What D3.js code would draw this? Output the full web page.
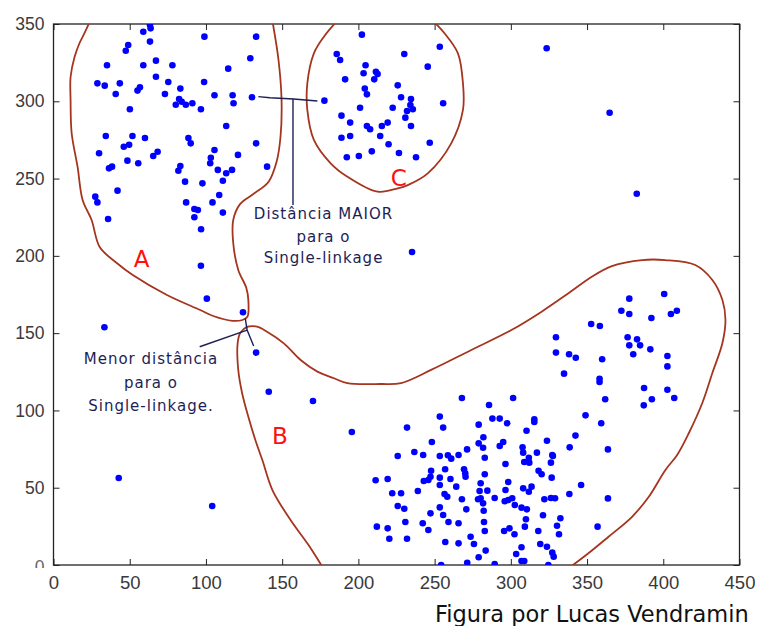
<!DOCTYPE html>
<html>
<head>
<meta charset="utf-8">
<script src="https://cdn.jsdelivr.net/npm/d3@7"></script>
<style>
  html, body { margin: 0; padding: 0; background: #fff; }
  svg { display: block; }
</style>
</head>
<body>
<svg id="chart" width="757" height="626"></svg>
<script>
// ---------------- data ----------------
const xTicks = [0, 50, 100, 150, 200, 250, 300, 350, 400, 450];
const yTicks = [0, 50, 100, 150, 200, 250, 300, 350];

const groupA = [
  [63.3,349.4],[63.7,347.2],[58.9,345],[99,341.8],[132.9,341.8],[63.3,338.6],[49,336.4],[47.4,332.7],
  [129.1,327.8],[67.2,326.3],[35.1,323.3],[58.9,323.3],[78,323.3],[114.6,321.1],[67.2,315.9],[28.8,311.6],
  [33.6,310.1],[43.5,311.6],[75.3,312.5],[98.8,312.5],[56.7,309],[55.1,306.9],[83.2,308.2],[40.8,304.7],
  [73.1,304.7],[105.6,303.9],[117.5,303.9],[130.2,302.6],[82.4,301.5],[84.1,299.7],[80.2,297.8],[86.8,297.8],
  [91.1,298.7],[118.1,298.7],[50.1,294.8],[96.7,294.8],[113.3,284],[34.3,277.5],[51.8,277.5],[60,276.2],
  [88.5,276.2],[90,272.8],[132.9,272.8],[49.6,271.9],[46.1,270.6],[105.6,268.5],[29.9,266.4],[68.3,267.4],
  [65.4,264.6],[121,265.3],[103.2,263.5],[48.5,261.6],[55.6,259.9],[102.8,259.9],[38.4,257.7],[36.4,256.6],
  [83.2,258.1],[81.9,255.1],[140.1,257.7],[107.8,255.6],[117.1,255.6],[113.3,253.4],[111.1,248.6],[86.3,248],
  [97.7,246.9],[42,242.2],[27.4,238.3],[28.8,234.6],[108.7,239.4],[87,234.6],[104.3,234.6],[92.4,230.3],
  [94.7,229.7],[111.1,228],[92.4,225],[35.8,223.8],[96.8,217.2],[96.7,193.6],[100.6,172.3],[124.3,163.5]
];

const groupC = [
  [202.3,343.1],[253.4,335.3],[185.8,330.6],[188,326.7],[230.1,330.6],[204.7,323.3],[245.5,322.4],[203.4,318.1],
  [211.5,319.1],[212.6,317.6],[191.3,314.2],[210.4,314.2],[225.8,310.3],[204.2,308.2],[205.6,304.5],[228,302.6],
  [234.5,301.5],[177.7,300.4],[255.6,298.7],[201.1,295.8],[222.5,295.8],[234.1,297.6],[235.7,294.8],[231.9,293.7],
  [188.9,290.7],[230.8,289.4],[194.6,286.2],[219.2,286.2],[215.4,284],[205.6,284],[207.7,281.9],[234.5,284],
  [188.9,276.4],[194.6,277.5],[214.3,277.5],[246.8,273.2],[219.8,272.2],[208.8,267.6],[226.6,266.5],[192.4,263.8],
  [200.3,264.6],[237.8,263.8]
];

const groupB = [
  // upper right part
  [377.7,172.3],[400.6,175.3],[372.5,164.5],[377.7,162.4],[392.2,159.8],[405,162.4],[408.9,164.5],[352.7,155.9],
  [358.4,154.6],[329.6,147.3],[376.6,147.3],[382.8,146],[377.7,142.1],[384.8,142.1],[391.5,139.5],[329.6,137.4],
  [338.2,136.3],[342.6,134.1],[359.9,133.1],[380.3,136.3],[402.7,135.2],[402.7,128.5],[334.9,123.8],[358.2,120.5],
  [358.2,118.4],[387.4,114.5],[402.7,113.4],[407.2,108],[392.5,107.2],[361.9,107.2],[387.2,103.3],[349,96.8],
  [359.3,91.7],[342.4,83.7],[323.7,80.4],[338.6,76.1],[363.7,74.8],[327.6,70.5],[363.7,43.1],
  // left / sparse part
  [132.9,137.4],[141.2,112.1],[170.2,106.1],[195.7,86],
  // dense part
  [267.9,108],[301.5,108],[285.7,103.5],[253.4,96],[287.9,94.7],[292.7,94.7],[315.4,94.3],[315.4,92.5],
  [278.9,90.8],[297.6,91.7],[231.9,88.9],[255.6,88.9],[310.3,86.9],[282,82.6],[248.2,79.6],[278.9,78.7],
  [295,79.6],[292.7,77],[281.8,75.9],[271.3,74.8],[307.7,76.1],[236.7,73.1],[225.8,70.5],[242.5,71.2],
  [253.4,70.5],[258.7,71],[260.9,68.8],[265.7,71.2],[308.1,72.7],[317.1,72.7],[327.2,71.2],[282.9,69.4],
  [311.8,69.4],[308.8,66.6],[326.3,66.2],[312.1,66.2],[296.5,65.3],[256.9,61.9],[269.3,61.9],[247.7,61],
  [318.2,61],[320.2,58.7],[270.1,59.3],[282.9,58.7],[270.3,57.1],[219.2,55.6],[211.3,54.8],[247.3,57.1],
  [253.4,56.5],[260.4,55.6],[242.9,54.3],[245.9,55],[326.8,56.5],[280.2,52.9],[298.3,53.7],[253.4,51.8],
  [264.2,50.7],[313.6,50.7],[308.1,49.6],[346.1,51.8],[239,47.9],[222.2,46.4],[228,46.4],[279.5,47.9],
  [284.6,48.1],[296.5,48.5],[311.8,47.4],[256.5,45.9],[258.3,44.2],[338.4,45.9],[280.2,43.2],[267.9,42.5],
  [278.5,42.5],[289.4,43.3],[296,41.2],[298.3,42.1],[300.9,43.2],[322,42.5],[326.3,43.3],[329,43.2],
  [281.8,39.9],[302.6,38.8],[225.8,38.2],[230.1,36.4],[253.4,37.3],[270.8,36],[307,37.1],[310.5,36],
  [282.2,35.1],[247.3,33.4],[255.6,32.3],[321.1,32.2],[332.5,30.2],[230.8,27.8],[242.2,27],[259.1,27.8],
  [265.7,27],[282.4,27.8],[309.9,29.6],[212.1,24.8],[219.2,23.7],[309.2,24.8],[330.3,25.4],[245.9,22.6],
  [299.1,23.7],[282.9,22],[295.6,22],[318,22],[302.4,19.9],[331.6,19.9],[220.3,17],[231.9,17],
  [273.6,18.3],[356.9,24.8],[257,14.9],[265.7,14],[275.8,13.6],[319.3,13.6],[323.7,11.8],[307,11.5],
  [283.5,9.3],[303.5,7.1],[327.2,8],[278.9,5],[328.1,5.4],[307,2.6],[308.8,2.6],[271.4,1.5],
  [289.4,0.6],[254.3,0],[324.6,0]
];

const outliers = [
  [33.4,153.8],[42.8,56.3],[104.1,38.2],[235.2,202.5],[323.5,334.3],[364.8,292.6],[382.6,240.2]
];

// cluster outlines (data coordinates)
const curveA = [
  [24,352],[20.4,344.2],[17.1,337.7],[13.8,328.6],[11.2,315.7],[11.2,300.8],[11.9,279.5],[15.8,257.5],
  [19.1,236.1],[25,223.2],[30.3,205.7],[41.5,195.4],[52,187.6],[74.4,174.7],[96.2,165],[104.8,161.1],
  [117.3,158],[123.9,158.5],[127.2,160.6],[127.8,171.4],[126.5,179.2],[121.2,190.9],[117.9,208.3],
  [117.9,223.2],[122.5,233.6],[131.1,240],[141,247.8],[146.3,260.7],[148.9,276.9],[149.6,300.8],
  [147.6,326.7],[143.6,352]
];
const curveB = [
  [177.5,-3],[167.3,12.9],[155.5,29.1],[143.6,48.5],[137,67.9],[132.4,80.9],[127.8,95.9],[123.7,111.3],
  [121.2,126.2],[120.8,143.6],[122.5,150.1],[127,154],[133.5,154.2],[140.1,150.9],[151.1,143.4],[162.1,132.6],
  [173.1,125.1],[184,120.8],[192.8,117.6],[214.8,117.1],[228,117.7],[247.7,126.2],[274.1,139.1],[300.4,152],
  [320.2,163.9],[337.8,175.8],[353.1,186.5],[366.3,193.4],[386.1,197.3],[401.2,197.3],[421,194.1],[432.2,184.4],
  [438.8,171.4],[440.8,158.5],[438.8,143.6],[432.2,124.2],[425.6,104.8],[416.8,85.4],[409.1,71.2],[401.4,61.5],
  [390.5,44.2],[379.5,31.2],[364.1,18.3],[350.9,7.6],[336.5,-3]
];
const curveC = [
  [186,352],[177.4,341.8],[170.8,331],[166.5,311.6],[166.5,294.4],[170.8,275],[181.8,259.9],[192.8,251.2],
  [212.6,241.5],[225.8,243.7],[232.4,245.8],[245.5,253.4],[260.9,272.8],[268.6,294.4],[268.6,311.6],
  [265.3,331],[256.5,344],[249,352]
];

// annotation lines (data coordinates)
const maxLinkH = [[134.4,303],[142,302.3],[157.5,301.5],[173.1,300.2]];
const maxLinkV = [[157.1,301.5],[157.1,232.9]];
const minLinks = [
  [[95.9,141.2],[127,152]],
  [[125.8,159.6],[127,152]],
  [[127,152],[131.3,141.7]]
];

const clusterLabels = [
  { text: "A", x: 57.8, y: 193 },
  { text: "B", x: 148.5, y: 78.5 },
  { text: "C", x: 226.5, y: 245 }
];
const maxText = ["Distância MAIOR", "para o", "Single-linkage"];
const minText = ["Menor distância", "para o", "Single-linkage."];
const credit = "Figura por Lucas Vendramin";

// ---------------- drawing ----------------
const svg = d3.select("#chart");
const L = 53.5, R = 739.5, T = 24, B = 565;
const x = d3.scaleLinear().domain([0, 450]).range([L, R]);
const y = d3.scaleLinear().domain([0, 350]).range([B, T]);

const defs = svg.append("defs");
defs.append("clipPath").attr("id", "plotclip")
  .append("rect").attr("x", L).attr("y", T).attr("width", R - L).attr("height", B - T);
// the "0" of the y axis is partly hidden in the original figure
defs.append("clipPath").attr("id", "zeroclip")
  .append("rect").attr("x", -100).attr("y", -100).attr("width", 200).attr("height", 102.5);

const tickFont = "'Liberation Sans', Arial, sans-serif";

// axes (ticks inward, box-style)
const gx = svg.append("g").attr("transform", `translate(0,${B})`)
  .call(d3.axisBottom(x).tickValues(xTicks).tickSize(-6).tickSizeOuter(0).tickPadding(11));
const gy = svg.append("g").attr("transform", `translate(${L},0)`)
  .call(d3.axisLeft(y).tickValues(yTicks).tickSize(-6).tickSizeOuter(0).tickPadding(9));
const gt = svg.append("g").attr("transform", `translate(0,${T})`)
  .call(d3.axisTop(x).tickValues(xTicks).tickSize(-6).tickSizeOuter(0).tickFormat(""));
const gr = svg.append("g").attr("transform", `translate(${R},0)`)
  .call(d3.axisRight(y).tickValues(yTicks).tickSize(-6).tickSizeOuter(0).tickFormat(""));

[gx, gy, gt, gr].forEach(g => {
  g.select(".domain").remove();
  g.selectAll(".tick line").attr("stroke", "#222").attr("stroke-width", 1);
  g.selectAll(".tick text").attr("font-family", tickFont).attr("font-size", 17.5).attr("fill", "#3a3a3a");
});
gx.selectAll(".tick text").attr("font-size", 18.5);
gy.selectAll(".tick").filter(d => d === 0)
  .select("text").attr("dy", "0.45em").attr("fill", "#666").attr("clip-path", "url(#zeroclip)");

// plot frame
svg.append("rect").attr("x", L).attr("y", T).attr("width", R - L).attr("height", B - T)
  .attr("fill", "none").attr("stroke", "#222").attr("stroke-width", 1.3);

const plot = svg.append("g").attr("clip-path", "url(#plotclip)");

// outlines
const line = d3.line().x(d => x(d[0])).y(d => y(d[1])).curve(d3.curveCatmullRom.alpha(0.5));
[curveA, curveB, curveC].forEach(c => {
  plot.append("path").attr("d", line(c)).attr("fill", "none")
    .attr("stroke", "#a5351f").attr("stroke-width", 1.8);
});

// annotation lines
const sline = d3.line().x(d => x(d[0])).y(d => y(d[1]));
const annColor = "#1e1e55";
[maxLinkH, maxLinkV, ...minLinks].forEach(seg => {
  plot.append("path").attr("d", sline(seg)).attr("fill", "none")
    .attr("stroke", annColor).attr("stroke-width", 1.4);
});

// points
const allPts = groupA.concat(groupB, groupC, outliers);
plot.selectAll("circle.pt").data(allPts).join("circle").attr("class", "pt")
  .attr("cx", d => x(d[0])).attr("cy", d => y(d[1])).attr("r", 3.3).attr("fill", "#0000ff");

// cluster labels
svg.selectAll("text.cl").data(clusterLabels).join("text").attr("class", "cl")
  .attr("x", d => x(d.x)).attr("y", d => y(d.y)).attr("text-anchor", "middle")
  .attr("font-family", "'DejaVu Sans', Verdana, sans-serif").attr("font-size", 23)
  .attr("fill", "#ff1010").text(d => d.text);

// annotation texts
const annFont = "'DejaVu Sans', Verdana, sans-serif";
function block(lines, cx, baselines) {
  lines.forEach((t, i) => {
    svg.append("text").attr("x", cx).attr("y", baselines[i]).attr("text-anchor", "middle")
      .attr("font-family", annFont).attr("font-size", 15).attr("letter-spacing", 1)
      .attr("fill", annColor).text(t);
  });
}
block(maxText, 323.5, [219, 241.5, 263]);
block(minText, 151, [364, 388, 410.5]);

// credit
svg.append("text").attr("x", 435).attr("y", 622).attr("text-anchor", "start")
  .attr("font-family", "'DejaVu Sans', Verdana, sans-serif").attr("font-size", 22.5)
  .attr("fill", "#111").text(credit);
</script>
</body>
</html>
